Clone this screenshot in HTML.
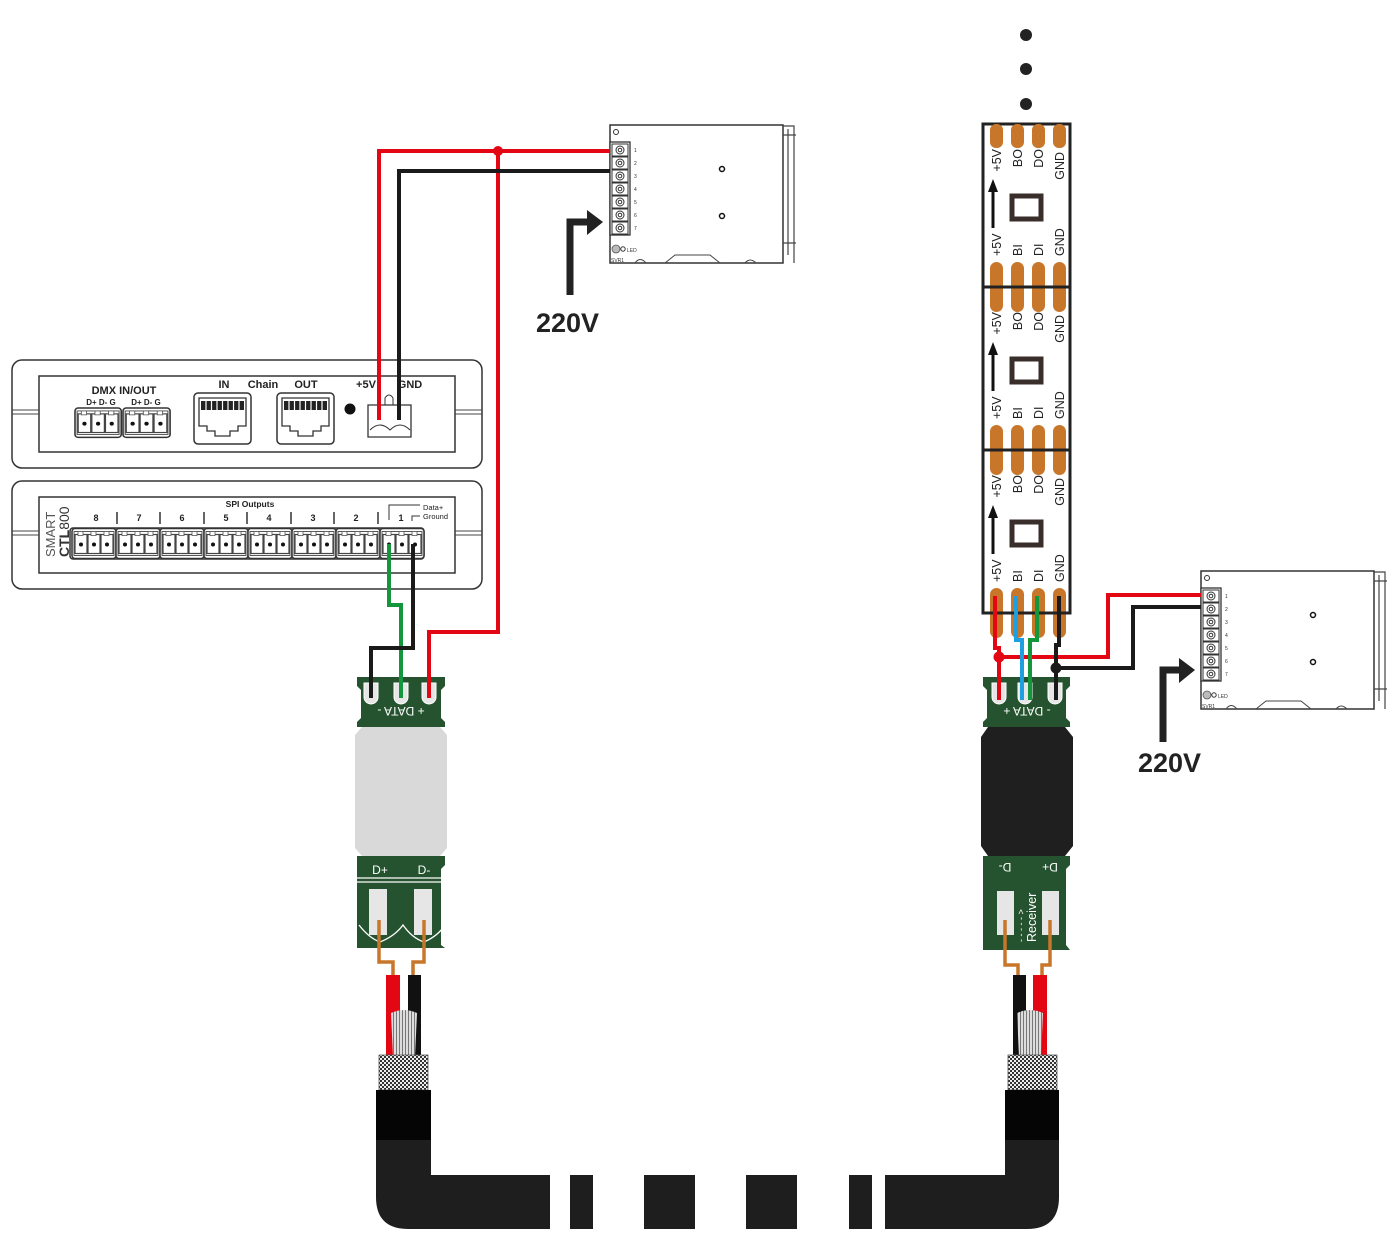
<!DOCTYPE html>
<html><head><meta charset="utf-8"><style>
html,body{margin:0;padding:0;background:#fff;}
svg{display:block;font-family:"Liberation Sans",sans-serif;}
</style></head><body>
<svg width="1396" height="1256" viewBox="0 0 1396 1256" xmlns="http://www.w3.org/2000/svg">
<defs>
<g id="blk">
 <rect x="0" y="0" width="44" height="30" rx="3" fill="#fff" stroke="#333" stroke-width="1.5"/>
 <rect x="2" y="3" width="40" height="24" fill="none" stroke="#555" stroke-width="1"/>
 <rect x="3" y="6" width="12" height="19" fill="none" stroke="#444" stroke-width="1.2"/>
 <rect x="16" y="6" width="12" height="19" fill="none" stroke="#444" stroke-width="1.2"/>
 <rect x="29" y="6" width="12" height="19" fill="none" stroke="#444" stroke-width="1.2"/>
 <rect x="6" y="3" width="5" height="4" fill="#fff" stroke="#555" stroke-width="0.8"/>
 <rect x="19" y="3" width="5" height="4" fill="#fff" stroke="#555" stroke-width="0.8"/>
 <rect x="32" y="3" width="5" height="4" fill="#fff" stroke="#555" stroke-width="0.8"/>
 <circle cx="9" cy="16" r="2" fill="#111"/><circle cx="22" cy="16" r="2" fill="#111"/><circle cx="35" cy="16" r="2" fill="#111"/>
</g>
<g id="rj">
 <rect x="0" y="0" width="57" height="51" rx="4" fill="#fff" stroke="#333" stroke-width="1.5"/>
 <path d="M5 5 H52 V33 H44 V38 H36 V43 H21 V38 H13 V33 H5 Z" fill="none" stroke="#333" stroke-width="1.3"/>
 <rect x="7" y="8" width="43" height="9" fill="#222"/>
 <g stroke="#fff" stroke-width="1.2"><line x1="12" y1="8" x2="12" y2="17"/><line x1="17.5" y1="8" x2="17.5" y2="17"/><line x1="23" y1="8" x2="23" y2="17"/><line x1="28.5" y1="8" x2="28.5" y2="17"/><line x1="34" y1="8" x2="34" y2="17"/><line x1="39.5" y1="8" x2="39.5" y2="17"/><line x1="45" y1="8" x2="45" y2="17"/></g>
</g>
<g id="psu">
 <rect x="0" y="0" width="173" height="138" fill="#fff" stroke="#333" stroke-width="1.5"/>
 <path d="M173 1 H184 V138 M178 4 V130 M173 118 H186 M173 10 H186" fill="none" stroke="#444" stroke-width="1.2"/>
 <circle cx="6" cy="7" r="2.5" fill="none" stroke="#333" stroke-width="1"/>
 <rect x="0" y="17" width="20" height="93" fill="#fff" stroke="#333" stroke-width="1.3"/>
 <g fill="none" stroke="#333" stroke-width="1">
  <rect x="2" y="19" width="16" height="12"/><circle cx="10" cy="25" r="4"/><circle cx="10" cy="25" r="1.8"/>
  <rect x="2" y="32" width="16" height="12"/><circle cx="10" cy="38" r="4"/><circle cx="10" cy="38" r="1.8"/>
  <rect x="2" y="45" width="16" height="12"/><circle cx="10" cy="51" r="4"/><circle cx="10" cy="51" r="1.8"/>
  <rect x="2" y="58" width="16" height="12"/><circle cx="10" cy="64" r="4"/><circle cx="10" cy="64" r="1.8"/>
  <rect x="2" y="71" width="16" height="12"/><circle cx="10" cy="77" r="4"/><circle cx="10" cy="77" r="1.8"/>
  <rect x="2" y="84" width="16" height="12"/><circle cx="10" cy="90" r="4"/><circle cx="10" cy="90" r="1.8"/>
  <rect x="2" y="97" width="16" height="12"/><circle cx="10" cy="103" r="4"/><circle cx="10" cy="103" r="1.8"/>
 </g>
 <circle cx="112" cy="44" r="2.5" fill="none" stroke="#111" stroke-width="1.5"/>
 <circle cx="112" cy="91" r="2.5" fill="none" stroke="#111" stroke-width="1.5"/>
 <circle cx="6" cy="124" r="4" fill="#bbb" stroke="#555" stroke-width="0.8"/>
 <circle cx="13" cy="124" r="2.2" fill="none" stroke="#333" stroke-width="1"/>
 <path d="M25 138 Q30 131 36 138 M55 138 L65 130 H100 L110 138 M135 138 Q140 132 146 138" fill="none" stroke="#444" stroke-width="1"/>
</g>
<g id="led">
 <rect x="1012" y="196" width="29" height="23" fill="#fff" stroke="#3a2e2b" stroke-width="5"/>
</g>
<pattern id="mesh" width="4" height="4" patternUnits="userSpaceOnUse">
 <rect width="4" height="4" fill="#eee"/><rect width="2" height="2" fill="#333"/><rect x="2" y="2" width="2" height="2" fill="#333"/>
</pattern>
<pattern id="strand" width="3" height="6" patternUnits="userSpaceOnUse">
 <rect width="3" height="6" fill="#ddd"/><rect width="1" height="6" fill="#777"/>
</pattern>
</defs>

<circle cx="1026" cy="35" r="6" fill="#222"/>
<circle cx="1026" cy="69" r="6" fill="#222"/>
<circle cx="1026" cy="104" r="6" fill="#222"/>

<use href="#psu" transform="translate(610,125)"/>
<g font-size="5" fill="#333"><text x="634" y="152">1</text><text x="634" y="165">2</text><text x="634" y="178">3</text><text x="634" y="191">4</text><text x="634" y="204">5</text><text x="634" y="217">6</text><text x="634" y="230">7</text><text x="627" y="252">LED</text><text x="611" y="262">SVR1</text></g>
<path d="M570 295 V222 H588" fill="none" stroke="#222" stroke-width="7"/>
<path d="M587 210 L603 222 L587 235 Z" fill="#222"/>
<text x="536" y="332" font-size="27" font-weight="bold" fill="#222">220V</text>

<use href="#psu" transform="translate(1201,571)"/>
<g font-size="5" fill="#333"><text x="1225" y="598">1</text><text x="1225" y="611">2</text><text x="1225" y="624">3</text><text x="1225" y="637">4</text><text x="1225" y="650">5</text><text x="1225" y="663">6</text><text x="1225" y="676">7</text><text x="1218" y="698">LED</text><text x="1202" y="708">SVR1</text></g>
<path d="M1163 742 V670 H1180" fill="none" stroke="#222" stroke-width="7"/>
<path d="M1179 658 L1195 670 L1179 683 Z" fill="#222"/>
<text x="1138" y="772" font-size="27" font-weight="bold" fill="#222">220V</text>

<rect x="12" y="360" width="470" height="108" rx="10" fill="#fff" stroke="#333" stroke-width="1.5"/>
<rect x="39" y="376" width="416" height="76" fill="#fff" stroke="#333" stroke-width="1.5"/>
<path d="M12 410 H39 M12 414 H39 M455 410 H482 M455 414 H482" stroke="#444" stroke-width="1"/>
<text x="124" y="394" font-size="11" font-weight="bold" text-anchor="middle" fill="#222">DMX IN/OUT</text>
<text x="101" y="405" font-size="8" font-weight="bold" text-anchor="middle" fill="#222">D+ D- G</text>
<text x="146" y="405" font-size="8" font-weight="bold" text-anchor="middle" fill="#222">D+ D- G</text>
<use href="#blk" transform="translate(75,408) scale(1.05,0.98)"/>
<use href="#blk" transform="translate(123,408) scale(1.07,0.98)"/>
<text x="224" y="388" font-size="11" font-weight="bold" text-anchor="middle" fill="#222">IN</text>
<text x="263" y="388" font-size="11" font-weight="bold" text-anchor="middle" fill="#222">Chain</text>
<text x="306" y="388" font-size="11" font-weight="bold" text-anchor="middle" fill="#222">OUT</text>
<text x="366" y="388" font-size="11" font-weight="bold" text-anchor="middle" fill="#222">+5V</text>
<text x="410" y="388" font-size="11" font-weight="bold" text-anchor="middle" fill="#222">GND</text>
<use href="#rj" transform="translate(194,393)"/>
<use href="#rj" transform="translate(277,393)"/>
<circle cx="350" cy="409" r="5.5" fill="#111"/>
<path d="M368 405 H411 V437 H368 Z" fill="#fff" stroke="#333" stroke-width="1.3"/>
<path d="M370 430 Q380 420 390 430 Q400 420 410 430" fill="none" stroke="#333" stroke-width="1"/>
<path d="M385 405 V398 Q389 392 393 398 V405" fill="none" stroke="#333" stroke-width="1"/>

<rect x="12" y="481" width="470" height="108" rx="10" fill="#fff" stroke="#333" stroke-width="1.5"/>
<rect x="39" y="497" width="416" height="76" fill="#fff" stroke="#333" stroke-width="1.5"/>
<path d="M12 531 H39 M12 535 H39 M455 531 H482 M455 535 H482" stroke="#444" stroke-width="1"/>
<text x="250" y="507" font-size="8.5" font-weight="bold" text-anchor="middle" fill="#222">SPI Outputs</text>
<g font-size="9" font-weight="bold" fill="#222" text-anchor="middle">
<text x="96" y="521">8</text><text x="139" y="521">7</text><text x="182" y="521">6</text><text x="226" y="521">5</text><text x="269" y="521">4</text><text x="313" y="521">3</text><text x="356" y="521">2</text><text x="401" y="521">1</text></g>
<g stroke="#333" stroke-width="1.5"><line x1="117" y1="512" x2="117" y2="524"/><line x1="160" y1="512" x2="160" y2="524"/><line x1="204" y1="512" x2="204" y2="524"/><line x1="247" y1="512" x2="247" y2="524"/><line x1="291" y1="512" x2="291" y2="524"/><line x1="334" y1="512" x2="334" y2="524"/><line x1="378" y1="512" x2="378" y2="524"/></g>
<path d="M389 520 V505 H420" fill="none" stroke="#333" stroke-width="1"/>
<path d="M412 521 V516 H420" fill="none" stroke="#333" stroke-width="1"/>
<text x="423" y="510" font-size="7.5" fill="#222">Data+</text>
<text x="423" y="519" font-size="7.5" fill="#222">Ground</text>
<text transform="translate(55,557) rotate(-90)" font-size="13" fill="#555">SMART</text>
<text transform="translate(69,557) rotate(-90)" font-size="14" font-weight="bold" fill="#333">CTL<tspan font-weight="normal">800</tspan></text>
<rect x="70" y="528" width="354" height="31" rx="3" fill="#fff" stroke="#333" stroke-width="1.5"/>
<use href="#blk" transform="translate(72,528.5)"/>
<use href="#blk" transform="translate(116,528.5)"/>
<use href="#blk" transform="translate(160,528.5)"/>
<use href="#blk" transform="translate(204,528.5)"/>
<use href="#blk" transform="translate(248,528.5)"/>
<use href="#blk" transform="translate(292,528.5)"/>
<use href="#blk" transform="translate(336,528.5)"/>
<use href="#blk" transform="translate(380,528.5)"/>

<!-- LED strip -->
<rect x="983" y="124" width="87" height="489" fill="#fff" stroke="#222" stroke-width="3"/>
<g fill="#c8762a">
<rect x="990" y="124" width="13" height="24" rx="6"/><rect x="1011" y="124" width="13" height="24" rx="6"/><rect x="1032" y="124" width="13" height="24" rx="6"/><rect x="1053" y="124" width="13" height="24" rx="6"/>
<rect x="990" y="262" width="13" height="50" rx="6.5"/><rect x="1011" y="262" width="13" height="50" rx="6.5"/><rect x="1032" y="262" width="13" height="50" rx="6.5"/><rect x="1053" y="262" width="13" height="50" rx="6.5"/>
<rect x="990" y="425" width="13" height="50" rx="6.5"/><rect x="1011" y="425" width="13" height="50" rx="6.5"/><rect x="1032" y="425" width="13" height="50" rx="6.5"/><rect x="1053" y="425" width="13" height="50" rx="6.5"/>
<rect x="990" y="588" width="13" height="50" rx="6.5"/><rect x="1011" y="588" width="13" height="50" rx="6.5"/><rect x="1032" y="588" width="13" height="50" rx="6.5"/><rect x="1053" y="588" width="13" height="50" rx="6.5"/>
</g>
<path d="M983 287 H1070 M983 450 H1070 M983 613 H1070" stroke="#222" stroke-width="3"/>
<use href="#led"/>
<use href="#led" transform="translate(0,163)"/>
<use href="#led" transform="translate(0,326)"/>
<g fill="#111">
<path d="M993 228 V188" stroke="#111" stroke-width="3"/><path d="M988 192 L993 179 L998 192 Z"/>
<path d="M993 391 V351" stroke="#111" stroke-width="3"/><path d="M988 355 L993 342 L998 355 Z"/>
<path d="M993 554 V514" stroke="#111" stroke-width="3"/><path d="M988 518 L993 505 L998 518 Z"/>
</g>
<g font-size="12.5" fill="#222">
<text transform="translate(1001,149) rotate(-90)" text-anchor="end">+5V</text>
<text transform="translate(1022,149) rotate(-90)" text-anchor="end">BO</text>
<text transform="translate(1043,149) rotate(-90)" text-anchor="end">DO</text>
<text transform="translate(1064,152) rotate(-90)" text-anchor="end">GND</text>
<text transform="translate(1001,256) rotate(-90)">+5V</text>
<text transform="translate(1022,256) rotate(-90)">BI</text>
<text transform="translate(1043,256) rotate(-90)">DI</text>
<text transform="translate(1064,256) rotate(-90)">GND</text>
<text transform="translate(1001,312) rotate(-90)" text-anchor="end">+5V</text>
<text transform="translate(1022,312) rotate(-90)" text-anchor="end">BO</text>
<text transform="translate(1043,312) rotate(-90)" text-anchor="end">DO</text>
<text transform="translate(1064,315) rotate(-90)" text-anchor="end">GND</text>
<text transform="translate(1001,419) rotate(-90)">+5V</text>
<text transform="translate(1022,419) rotate(-90)">BI</text>
<text transform="translate(1043,419) rotate(-90)">DI</text>
<text transform="translate(1064,419) rotate(-90)">GND</text>
<text transform="translate(1001,475) rotate(-90)" text-anchor="end">+5V</text>
<text transform="translate(1022,475) rotate(-90)" text-anchor="end">BO</text>
<text transform="translate(1043,475) rotate(-90)" text-anchor="end">DO</text>
<text transform="translate(1064,478) rotate(-90)" text-anchor="end">GND</text>
<text transform="translate(1001,582) rotate(-90)">+5V</text>
<text transform="translate(1022,582) rotate(-90)">BI</text>
<text transform="translate(1043,582) rotate(-90)">DI</text>
<text transform="translate(1064,582) rotate(-90)">GND</text>
</g>

<!-- Left connector -->
<path d="M357 677 H445 V686 L441 690 V718 L445 722 V727 H357 V722 L361 718 V690 L357 686 Z" fill="#25532f"/>
<path d="M362 727 H440 L447 735 V848 L440 856 H362 L355 848 V735 Z" fill="#d9d9d9"/>
<path d="M357 856 H445 V865 L441 869 V945 L445 948 H357 L357 869 Z" fill="#25532f"/>
<g fill="#e6e6e6" stroke="#fff" stroke-width="1">
<path d="M364 683 V697 A7 7 0 0 0 378 697 V683 Z"/><path d="M394 683 V697 A7 7 0 0 0 408 697 V683 Z"/><path d="M422 683 V697 A7 7 0 0 0 436 697 V683 Z"/></g>
<text transform="translate(401,710) rotate(180)" font-size="12" fill="#fff" text-anchor="middle" dominant-baseline="middle">+ DATA -</text>
<text x="380" y="874" font-size="12" fill="#fff" text-anchor="middle">D+</text>
<text x="424" y="874" font-size="12" fill="#fff" text-anchor="middle">D-</text>
<path d="M357 878 H445 M357 882 H445" stroke="#fff" stroke-width="1.2"/>
<rect x="369" y="889" width="18" height="46" fill="#e6e6e6"/>
<rect x="414" y="889" width="18" height="46" fill="#e6e6e6"/>
<path d="M359 925 Q369 938 380 942 Q395 936 403 925 Q412 938 424 942 Q438 936 445 925" fill="none" stroke="#fff" stroke-width="1.3"/>

<!-- Right connector -->
<path d="M983 677 H1070 V686 L1066 690 V718 L1070 722 V727 H983 V722 L987 718 V690 L983 686 Z" fill="#25532f"/>
<path d="M988 727 H1065 L1073 737 V846 L1065 856 H988 L981 846 V737 Z" fill="#1f1f1f"/>
<path d="M983 856 H1070 V865 L1066 869 V945 L1070 950 H983 V869 Z" fill="#25532f"/>
<g fill="#e6e6e6" stroke="#fff" stroke-width="1">
<path d="M992 683 V697 A7 7 0 0 0 1006 697 V683 Z"/><path d="M1018 683 V697 A7 7 0 0 0 1032 697 V683 Z"/><path d="M1048 683 V697 A7 7 0 0 0 1062 697 V683 Z"/></g>
<text transform="translate(1027,710) rotate(180)" font-size="12" fill="#fff" text-anchor="middle" dominant-baseline="middle">- DATA +</text>
<text transform="translate(1005,866) rotate(180)" font-size="12" fill="#fff" text-anchor="middle" dominant-baseline="middle">D-</text>
<text transform="translate(1050,866) rotate(180)" font-size="12" fill="#fff" text-anchor="middle" dominant-baseline="middle">D+</text>
<rect x="997" y="891" width="17" height="44" fill="#e6e6e6"/>
<rect x="1042" y="891" width="17" height="44" fill="#e6e6e6"/>
<text transform="translate(1036,942) rotate(-90)" font-size="12.5" fill="#fff">Receiver</text>
<text transform="translate(1024,942) rotate(-90)" font-size="9" fill="#fff">- - - - - &gt;</text>

<!-- Left wiring -->
<g fill="none" stroke-width="4">
<path d="M610 151 H379 V420" stroke="#e30613"/>
<path d="M498 151 V632 H429 V698" stroke="#e30613"/>
<path d="M610 171 H399 V420" stroke="#1a1a1a"/>
<path d="M389 544 V605 H401 V698" stroke="#14963c"/>
<path d="M413 544 V648 H371 V698" stroke="#1a1a1a"/>
</g>
<circle cx="498" cy="151" r="5" fill="#e30613"/>

<!-- Right wiring -->
<g fill="none" stroke-width="4">
<path d="M995 596 V648 H999 V700" stroke="#e30613"/>
<path d="M999 657 H1108 V595 H1201" stroke="#e30613"/>
<path d="M1016 596 V640 H1022 V700" stroke="#1ea0e0"/>
<path d="M1037 596 V640 H1030 V700" stroke="#14963c"/>
<path d="M1059 596 V645 H1056 V700" stroke="#1a1a1a"/>
<path d="M1056 668 H1133 V607 H1201" stroke="#1a1a1a"/>
</g>
<circle cx="999" cy="657" r="5.5" fill="#e30613"/>
<circle cx="1056" cy="668" r="5.5" fill="#1a1a1a"/>

<!-- Cables -->
<g fill="none" stroke="#c8762a" stroke-width="3.5">
<path d="M379 920 V962 H393 V990"/><path d="M424 920 V962 H413 V990"/>
<path d="M1005 920 V965 H1018 V990"/><path d="M1050 920 V965 H1042 V990"/>
</g>
<rect x="386" y="975" width="14" height="82" fill="#e30613"/>
<rect x="408" y="975" width="13" height="82" fill="#111"/>
<path d="M391 1013 Q404 1007 417 1013 L415 1057 H393 Z" fill="url(#strand)"/>
<rect x="379" y="1055" width="49" height="35" fill="url(#mesh)" stroke="#555" stroke-width="0.8"/>
<rect x="376" y="1090" width="55" height="52" fill="#050505"/>
<rect x="1013" y="975" width="13" height="82" fill="#111"/>
<rect x="1033" y="975" width="14" height="82" fill="#e30613"/>
<path d="M1017 1013 Q1030 1007 1043 1013 L1041 1057 H1019 Z" fill="url(#strand)"/>
<rect x="1008" y="1055" width="49" height="35" fill="url(#mesh)" stroke="#555" stroke-width="0.8"/>
<rect x="1005" y="1090" width="54" height="52" fill="#050505"/>
<path d="M376 1140 H431 V1175 H550 V1229 H408 Q376 1229 376 1197 Z" fill="#1e1e1e"/>
<rect x="570" y="1175" width="23" height="54" fill="#1e1e1e"/>
<rect x="644" y="1175" width="51" height="54" fill="#1e1e1e"/>
<rect x="746" y="1175" width="51" height="54" fill="#1e1e1e"/>
<rect x="849" y="1175" width="23" height="54" fill="#1e1e1e"/>
<path d="M885 1175 H1005 V1140 H1059 V1197 Q1059 1229 1027 1229 H885 Z" fill="#1e1e1e"/>
</svg>
</body></html>
